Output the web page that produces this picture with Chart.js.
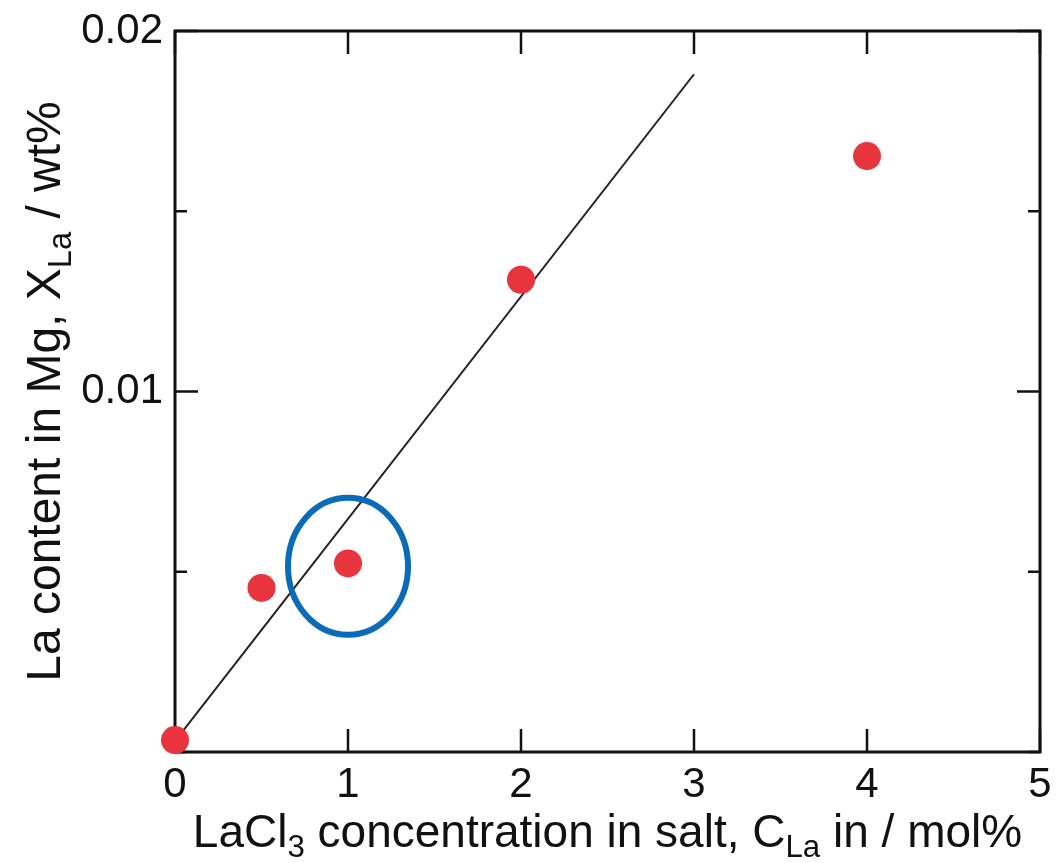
<!DOCTYPE html>
<html>
<head>
<meta charset="utf-8">
<script src="https://cdn.jsdelivr.net/npm/chart.js@4.4.1/dist/chart.umd.min.js"></script>
<style>
  html, body { margin: 0; padding: 0; background: #fff; }
  canvas { display: block; }
</style>
</head>
<body>
<canvas id="myChart" width="1058" height="863"></canvas>
<script>
// measured points: LaCl3 concentration (mol%) vs La content (wt%)
var concentration = [0, 0.5, 1, 2, 4];
var laContent = [0.00033, 0.00455, 0.00523, 0.0131, 0.01653];

// straight fit line
var fitX = [0, 3];
var fitY = [0.0003, 0.0188];

// highlighted point (circled in blue)
var markX = [1];
var markY = [0.00515];

var xTicks = [0, 1, 2, 3, 4, 5];
var yLabelled = [0.01, 0.02];

var xTitle = [['LaCl', 0], ['3', 1], [' concentration in salt, C', 0], ['La', 1], [' in / mol%', 0]];
var yTitle = [['La content in Mg, X', 0], ['La', 1], [' / wt%', 0]];

var FONT = '"Liberation Sans", Arial, Helvetica, sans-serif';

function richText(ctx, parts, cx, baseY, size) {
    var widths = [];
    var total = 0;
    for (var i = 0; i < parts.length; i++) {
        ctx.font = (parts[i][1] ? size * 0.68 : size) + 'px ' + FONT;
        var w = ctx.measureText(parts[i][0]).width;
        widths.push(w);
        total += w;
    }
    var x = cx - total / 2;
    ctx.textAlign = 'left';
    ctx.textBaseline = 'alphabetic';
    for (var j = 0; j < parts.length; j++) {
        ctx.font = (parts[j][1] ? size * 0.68 : size) + 'px ' + FONT;
        ctx.fillText(parts[j][0], x, parts[j][1] ? baseY + size * 0.22 : baseY);
        x += widths[j];
    }
}

var framePlugin = {
    id: 'frame',
    beforeDatasetsDraw: function(chart) {
        var ctx = chart.ctx, a = chart.chartArea;
        var xs = chart.scales.x, ys = chart.scales.y;
        ctx.save();
        ctx.strokeStyle = '#111';
        ctx.lineWidth = 3;
        ctx.strokeRect(a.left, a.top, a.right - a.left, a.bottom - a.top);
        ctx.lineWidth = 2.5;
        ctx.beginPath();
        for (var i = 0; i < xTicks.length; i++) {
            var px = xs.getPixelForValue(xTicks[i]);
            ctx.moveTo(px, a.bottom); ctx.lineTo(px, a.bottom - 23);
            ctx.moveTo(px, a.top); ctx.lineTo(px, a.top + 23);
        }
        ys.ticks.forEach(function(t) {
            var py = ys.getPixelForValue(t.value);
            var major = yLabelled.some(function(v) { return Math.abs(v - t.value) < 1e-9; });
            var len = major ? 23 : 12;
            ctx.moveTo(a.left, py); ctx.lineTo(a.left + len, py);
            ctx.moveTo(a.right, py); ctx.lineTo(a.right - len, py);
        });
        ctx.stroke();
        ctx.restore();
    },
    afterDatasetsDraw: function(chart) {
        var ctx = chart.ctx;
        var xs = chart.scales.x, ys = chart.scales.y;
        ctx.save();
        ctx.strokeStyle = '#0a6cb8';
        ctx.lineWidth = 6;
        for (var i = 0; i < markX.length; i++) {
            var cx = xs.getPixelForValue(markX[i]);
            var cy = ys.getPixelForValue(markY[i]);
            var rx = Math.abs(xs.getPixelForValue(markX[i] + 0.347) - cx);
            var ry = Math.abs(ys.getPixelForValue(markY[i] + 0.0019) - cy);
            ctx.beginPath();
            ctx.ellipse(cx, cy, rx, ry, 0, 0, Math.PI * 2);
            ctx.stroke();
        }
        ctx.restore();
    },
    afterDraw: function(chart) {
        var ctx = chart.ctx, a = chart.chartArea;
        ctx.save();
        ctx.fillStyle = '#111';
        richText(ctx, xTitle, (a.left + a.right) / 2, 847, 46);
        ctx.translate(60, (a.top + a.bottom) / 2);
        ctx.rotate(-Math.PI / 2);
        richText(ctx, yTitle, 0, 0, 48);
        ctx.restore();
    }
};

var points = [];
for (var i = 0; i < concentration.length; i++) {
    points.push({x: concentration[i], y: laContent[i]});
}
var fit = [];
for (var k = 0; k < fitX.length; k++) {
    fit.push({x: fitX[k], y: fitY[k]});
}

var ctx = document.getElementById('myChart').getContext('2d');
var chart = new Chart(ctx, {
    type: 'scatter',
    data: {
        datasets: [{
            data: points,
            backgroundColor: '#e8343c',
            borderWidth: 0,
            pointRadius: 14,
            clip: false,
            order: 0
        }, {
            type: 'line',
            data: fit,
            borderColor: '#222',
            borderWidth: 2,
            pointRadius: 0,
            fill: false,
            order: 1
        }]
    },
    options: {
        responsive: false,
        devicePixelRatio: 1,
        animation: false,
        layout: { padding: { top: 31, right: 18, left: 0, bottom: 0 } },
        plugins: { legend: { display: false }, tooltip: { enabled: false } },
        scales: {
            x: {
                type: 'linear',
                min: 0, max: 5,
                grid: { display: false, drawTicks: false },
                border: { display: false },
                ticks: { stepSize: 1, padding: 8, color: '#111', font: { family: FONT, size: 42 } },
                afterFit: function(s) { s.height = 111; s.paddingLeft = 0; s.paddingRight = 0; }
            },
            y: {
                type: 'linear',
                min: 0, max: 0.02,
                grid: { display: false, drawTicks: false },
                border: { display: false },
                ticks: {
                    stepSize: 0.005, padding: 12, color: '#111',
                    font: { family: FONT, size: 42 },
                    callback: function(v) {
                        for (var i = 0; i < yLabelled.length; i++) {
                            if (Math.abs(v - yLabelled[i]) < 1e-9) return String(yLabelled[i]);
                        }
                        return '';
                    }
                },
                afterFit: function(s) { s.width = 175; s.paddingTop = 0; s.paddingBottom = 0; }
            }
        }
    },
    plugins: [framePlugin]
});
</script>
</body>
</html>
